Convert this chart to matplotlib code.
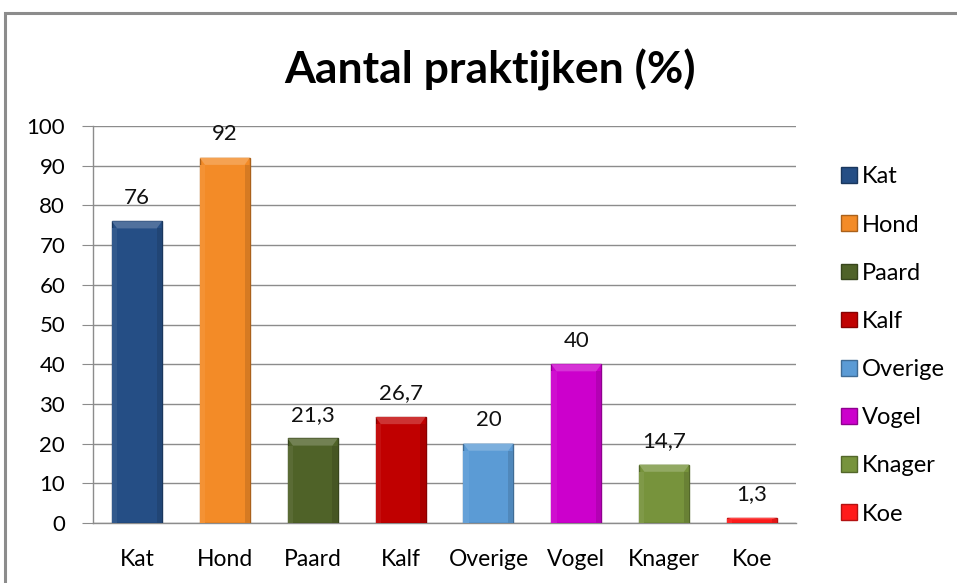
import matplotlib
matplotlib.use("Agg")
import matplotlib.pyplot as plt
import numpy as np
from matplotlib.patches import Rectangle, Polygon

categories = ["Kat", "Hond", "Paard", "Kalf", "Overige", "Vogel", "Knager", "Koe"]
values = [76, 92, 21.3, 26.7, 20, 40, 14.7, 1.3]
labels = ["76", "92", "21,3", "26,7", "20", "40", "14,7", "1,3"]
colors = ["#254E85", "#F38B27", "#4F6228", "#C00000", "#5B9BD5", "#CC00CC", "#77933C", "#FF1A1A"]
yticks = list(range(0, 101, 10))

FONT = ["Lato", "DejaVu Sans"]
plt.rcParams['font.family'] = FONT

fig = plt.figure(figsize=(9.57, 5.83), dpi=100)
fig.patches.append(Rectangle((5/957, -0.1), 1.2, 1 - 13/583 + 0.1, transform=fig.transFigure,
                             fill=False, edgecolor="#8C8C8C", linewidth=2.2))

ax = fig.add_axes([93/957, 60/583, 703/957, 397/583])
x = np.arange(len(categories))
w = 0.57

def shade(c, f):
    c = np.array(matplotlib.colors.to_rgb(c))
    if f >= 0:
        return tuple(c + (1 - c) * f)
    return tuple(c * (1 + f))

bars = ax.bar(x, values, width=w, color=colors, edgecolor=[shade(c, -0.3) for c in colors],
              linewidth=1.0, zorder=3)
for b, c in zip(bars, colors):
    x0, y0 = b.get_x(), b.get_y()
    bw, bh = b.get_width(), b.get_height()
    bev = min(1.8, bh * 0.3)
    inset = 0.06
    ax.add_patch(Polygon([(x0, y0 + bh), (x0 + bw, y0 + bh), (x0 + bw - inset, y0 + bh - bev),
                          (x0 + inset, y0 + bh - bev)], closed=True, facecolor=shade(c, 0.2),
                         edgecolor="none", zorder=4))
    ax.add_patch(Rectangle((x0 + bw - inset, y0), inset, bh - bev, facecolor=shade(c, -0.12),
                           edgecolor="none", zorder=4))
    ax.add_patch(Rectangle((x0, y0), inset, bh - bev, facecolor=shade(c, 0.06),
                           edgecolor="none", zorder=4))

for xi, v, lab in zip(x, values, labels):
    ax.text(xi, v + 3.4, lab, ha="center", va="bottom", fontsize=16, color="#111111", zorder=5)

ax.set_xlim(-0.5, len(categories) - 0.5)
ax.set_ylim(0, 100)
ax.set_yticks(yticks)
ax.set_yticklabels([str(t) for t in yticks], fontsize=16)
ax.set_xticks(x)
ax.set_xticklabels(categories, fontsize=16.5)
ax.tick_params(axis="x", length=0, pad=19)
ax.tick_params(axis="y", length=8, color="#8C8C8C", pad=12)
ax.yaxis.grid(True, color="#8C8C8C", linewidth=1.0, zorder=0)
ax.set_axisbelow(True)
for s in ["top", "right"]:
    ax.spines[s].set_visible(False)
for s in ["left", "bottom"]:
    ax.spines[s].set_color("#8C8C8C")
    ax.spines[s].set_linewidth(1.0)

fig.text(490/957, 1 - 70/583, "Aantal praktijken (%)", ha="center", va="center",
         fontsize=32, fontweight="bold", color="black")

handles = [Rectangle((0, 0), 1, 1, facecolor=c, edgecolor=shade(c, -0.3)) for c in colors]
leg = fig.legend(handles, categories, loc="upper left", bbox_to_anchor=(832/957, 1 - 157/583),
                 frameon=False, fontsize=17, handlelength=0.65, handleheight=0.65,
                 handletextpad=0.2, labelspacing=1.15, borderaxespad=0)

fig.savefig("out.png", dpi=100)
